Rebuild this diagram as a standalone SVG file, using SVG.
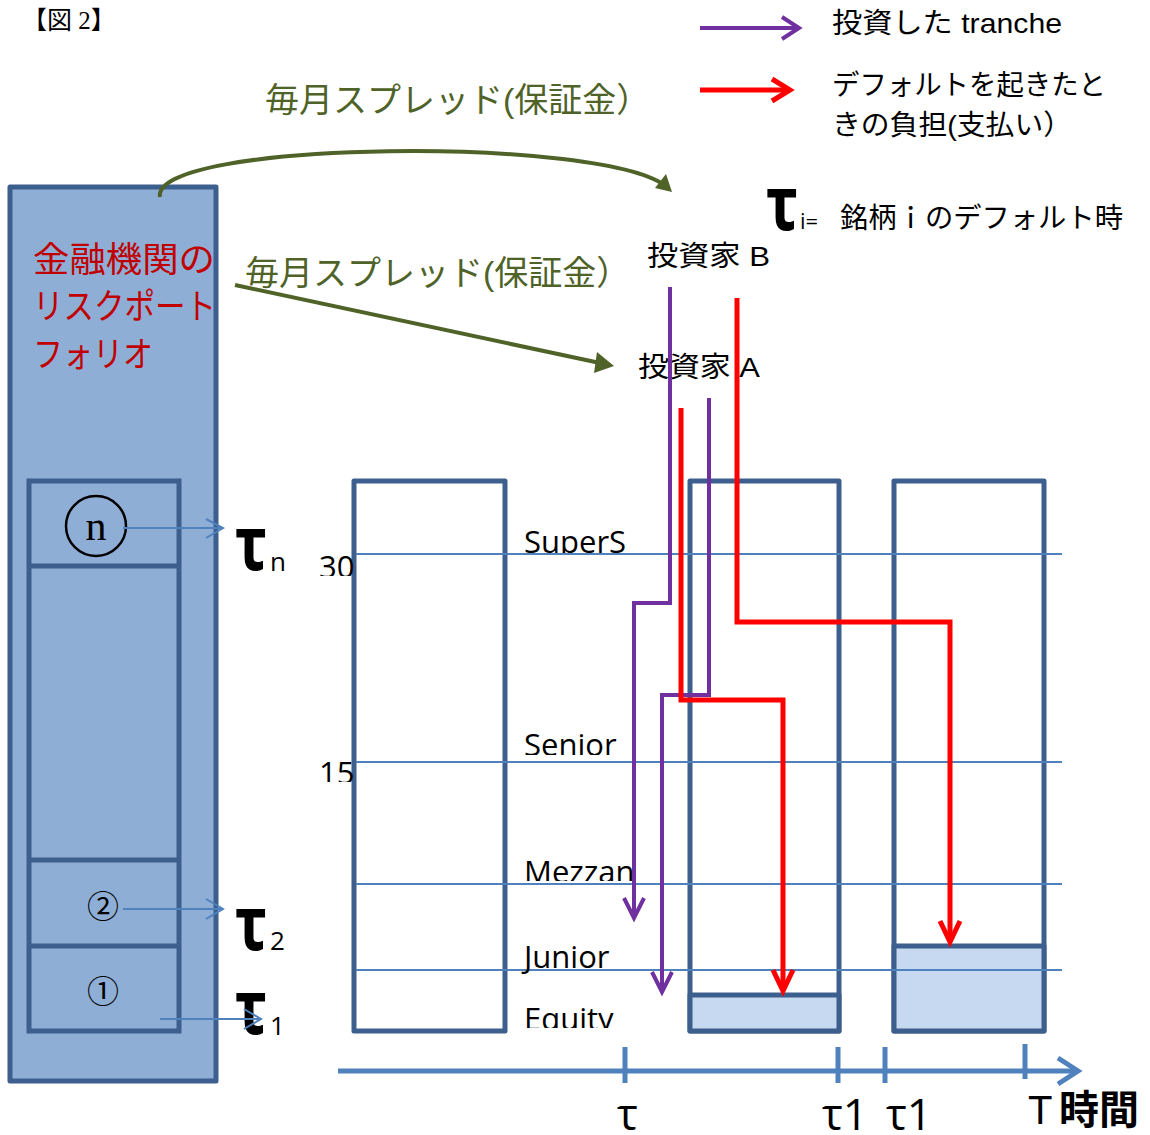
<svg xmlns="http://www.w3.org/2000/svg" width="1150" height="1135" viewBox="0 0 1150 1135">
<style>
.box{fill:#fff;stroke:#3c5f8d;stroke-width:5;stroke-linejoin:round}
.fillb{fill:#c6d9f0;stroke:#3c5f8d;stroke-width:5;stroke-linejoin:round}
.grid{stroke:#4f81bd;stroke-width:2}
.jp{font-family:"Liberation Sans","Noto Sans CJK JP",sans-serif;fill:#000}
.lab{font-family:"Open Sans","Liberation Sans",sans-serif;font-size:31px;fill:#000}
.tau{font-family:"Noto Sans","Open Sans",sans-serif;font-weight:bold;font-size:52px;fill:#000}
.sub{font-family:"Open Sans","Liberation Sans",sans-serif;fill:#000}
.pur{fill:none;stroke:#7030a0;stroke-width:4;stroke-linejoin:miter}
.red{fill:none;stroke:#ff0000;stroke-width:5;stroke-linejoin:miter}
.thin{fill:none;stroke:#4f81bd;stroke-width:2}
.grn{fill:none;stroke:#4f6228;stroke-width:4}
.gtxt{font-family:"Liberation Sans","Noto Sans CJK JP",sans-serif;font-size:34px;fill:#4f6228}
.rtxt{font-family:"Liberation Sans","Noto Sans CJK JP",sans-serif;font-size:35px;fill:#c00000}
</style>
<defs>
<clipPath id="c1"><rect x="500" y="500" width="200" height="53"/></clipPath>
<clipPath id="c2"><rect x="500" y="700" width="200" height="55"/></clipPath>
<clipPath id="c3"><rect x="500" y="840" width="200" height="41"/></clipPath>
<clipPath id="c4"><rect x="500" y="990" width="200" height="38"/></clipPath>
<clipPath id="c5"><rect x="300" y="530" width="56" height="46"/></clipPath>
<clipPath id="c6"><rect x="300" y="740" width="56" height="42"/></clipPath>
</defs>

<text x="22" y="29" font-family="Liberation Serif, Noto Sans CJK JP, serif" font-size="25">【図 2】</text>

<g id="portfolio">
<rect x="10" y="187" width="206" height="894" fill="#8faed5" stroke="#3c5f8d" stroke-width="5" stroke-linejoin="round"/>
<rect x="29" y="481" width="150" height="550" fill="none" stroke="#3c5f8d" stroke-width="5"/>
<line x1="29" y1="566" x2="179" y2="566" stroke="#3c5f8d" stroke-width="5"/>
<line x1="29" y1="860" x2="179" y2="860" stroke="#3c5f8d" stroke-width="5"/>
<line x1="29" y1="946" x2="179" y2="946" stroke="#3c5f8d" stroke-width="5"/>
<text class="rtxt" x="33" y="272" textLength="182" lengthAdjust="spacingAndGlyphs">金融機関の</text>
<text class="rtxt" x="33" y="319" textLength="183" lengthAdjust="spacingAndGlyphs">リスクポート</text>
<text class="rtxt" x="33" y="367" textLength="120" lengthAdjust="spacingAndGlyphs">フォリオ</text>
<circle cx="96" cy="526" r="30" fill="none" stroke="#000" stroke-width="2.5"/>
<text x="96" y="540" text-anchor="middle" font-family="Liberation Serif, serif" font-size="42">n</text>
<text x="103" y="918" text-anchor="middle" font-family="Liberation Sans, Noto Sans CJK JP, sans-serif" font-size="32">②</text>
<text x="103" y="1003" text-anchor="middle" font-family="Liberation Sans, Noto Sans CJK JP, sans-serif" font-size="32">①</text>
</g>

<g id="tau-labels">
<text class="tau" transform="translate(235,570) scale(1.15,1.45)">τ</text><text class="sub" x="270" y="571" font-size="26">n</text>
<text class="tau" transform="translate(235,950) scale(1.15,1.45)">τ</text><text class="sub" x="270" y="950" font-size="26">2</text>
<text class="tau" transform="translate(235,1034) scale(1.15,1.45)">τ</text><text class="sub" x="270" y="1035" font-size="26">1</text>
<text class="tau" transform="translate(766,230) scale(1.15,1.45)">τ</text><text class="sub" x="800" y="229" font-size="22">i=</text>
<text class="jp" x="840" y="228" font-size="28" textLength="283" lengthAdjust="spacingAndGlyphs">銘柄ｉのデフォルト時</text>
</g>

<g id="tranche1">
<rect class="box" x="354" y="481" width="151" height="550"/>
</g>
<g id="tranche2">
<rect class="box" x="690" y="481" width="149" height="550"/>
<rect class="fillb" x="690" y="995" width="149" height="36"/>
</g>
<g id="tranche3">
<rect class="box" x="894" y="481" width="150" height="550"/>
<rect class="fillb" x="894" y="946" width="150" height="85"/>
</g>

<g id="grid">
<line class="grid" x1="356" y1="554" x2="1062" y2="554"/>
<line class="grid" x1="356" y1="762" x2="1062" y2="762"/>
<line class="grid" x1="356" y1="884" x2="1062" y2="884"/>
<line class="grid" x1="356" y1="970" x2="1062" y2="970"/>
<text class="lab" x="524" y="553" clip-path="url(#c1)">SuperS</text>
<text class="lab" x="524" y="756" clip-path="url(#c2)">Senior</text>
<text class="lab" x="524" y="883" clip-path="url(#c3)">Mezzan</text>
<text class="lab" x="524" y="968">Junior</text>
<text class="lab" x="524" y="1030" clip-path="url(#c4)">Equity</text>
<text class="lab" x="319" y="578" clip-path="url(#c5)">30</text>
<text class="lab" x="319" y="784" clip-path="url(#c6)">15</text>
</g>

<g id="axis">
<line x1="338" y1="1071" x2="1076" y2="1071" stroke="#4f81bd" stroke-width="5"/>
<polyline points="1058,1058 1078,1071 1058,1084" fill="none" stroke="#4f81bd" stroke-width="5"/>
<line x1="625" y1="1047" x2="625" y2="1083" stroke="#4f81bd" stroke-width="5"/>
<line x1="838" y1="1047" x2="838" y2="1083" stroke="#4f81bd" stroke-width="5"/>
<line x1="885" y1="1047" x2="885" y2="1083" stroke="#4f81bd" stroke-width="5"/>
<line x1="1025" y1="1044" x2="1025" y2="1079" stroke="#4f81bd" stroke-width="5"/>
<text class="sub" x="617" y="1130" font-size="44">τ</text>
<text class="sub" x="822" y="1130" font-size="44">τ1</text>
<text class="sub" x="886" y="1130" font-size="44">τ1</text>
<text class="jp" x="1028" y="1124" font-size="40">T</text>
<text class="jp" x="1059" y="1124" font-size="40" font-weight="bold">時間</text>
</g>

<g id="investors">
<text class="jp" x="647" y="266" font-size="28" textLength="123" lengthAdjust="spacingAndGlyphs">投資家 B</text>
<text class="jp" x="638" y="377" font-size="28" textLength="122" lengthAdjust="spacingAndGlyphs">投資家 A</text>
</g>

<g id="legend">
<line x1="700" y1="28" x2="798" y2="28" stroke="#7030a0" stroke-width="4"/>
<polyline points="782,17 799,28 782,39" fill="none" stroke="#7030a0" stroke-width="4"/>
<line x1="700" y1="90" x2="789" y2="90" stroke="#ff0000" stroke-width="5"/>
<polyline points="772,79 790,90 772,101" fill="none" stroke="#ff0000" stroke-width="5"/>
<text class="jp" x="832" y="33" font-size="28" textLength="230" lengthAdjust="spacingAndGlyphs">投資した tranche</text>
<text class="jp" x="832" y="95" font-size="28" textLength="274" lengthAdjust="spacingAndGlyphs">デフォルトを起きたと</text>
<text class="jp" x="832" y="135" font-size="28" textLength="240" lengthAdjust="spacingAndGlyphs">きの負担(支払い）</text>
</g>

<g id="connectors">
<path class="grn" d="M160,197 C150,140 610,135 668,188"/>
<polygon points="672,192 655,188 666,174" fill="#4f6228"/>
<text class="gtxt" x="265" y="112">毎月スプレッド(保証金）</text>
<line class="grn" x1="235" y1="285" x2="600" y2="363"/>
<polygon points="614,366 594,373 597,352" fill="#4f6228"/>
<text class="gtxt" x="245" y="285">毎月スプレッド(保証金）</text>

<path class="pur" d="M670,287 V603 H634 V916"/>
<polyline class="pur" points="624,898 634,918 644,898"/>
<path class="pur" d="M709,398 V695 H662 V990"/>
<polyline class="pur" points="652,972 662,992 672,972"/>
<path class="red" d="M681,408 V700 H783 V990"/>
<polyline class="red" points="773,970 783,991 793,970"/>
<path class="red" d="M737,298 V622 H950 V941"/>
<polyline class="red" points="940,921 950,942 960,921"/>

<line class="thin" x1="123" y1="528" x2="222" y2="528"/>
<polyline class="thin" points="206,519 223,528 206,538"/>
<line class="thin" x1="123" y1="909" x2="222" y2="909"/>
<polyline class="thin" points="206,899 223,909 206,919"/>
<line class="thin" x1="160" y1="1019" x2="260" y2="1019"/>
<polyline class="thin" points="244,1009 261,1019 244,1029"/>
</g>
</svg>
